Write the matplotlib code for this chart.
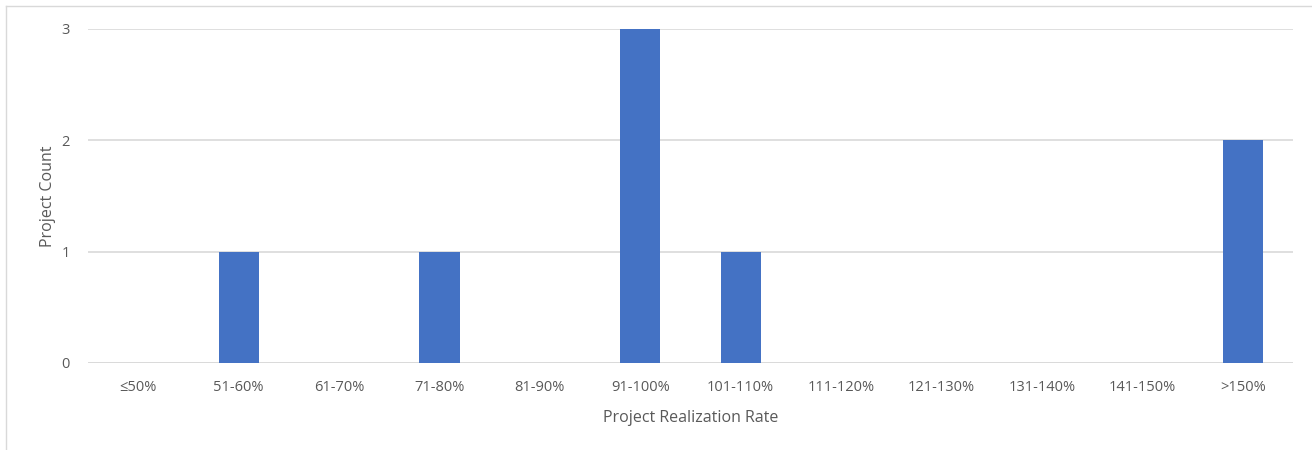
import matplotlib.pyplot as plt
from matplotlib.lines import Line2D

categories = ["≤50%", "51-60%", "61-70%", "71-80%", "81-90%", "91-100%",
              "101-110%", "111-120%", "121-130%", "131-140%", "141-150%", ">150%"]
counts = [0, 1, 0, 1, 0, 3, 1, 0, 0, 0, 0, 2]

plt.rcParams['font.family'] = ['Open Sans', 'DejaVu Sans']

fig = plt.figure(figsize=(13.12, 4.5), dpi=100)
ax = fig.add_axes([88 / 1312, 1 - 363 / 450, (1293 - 88) / 1312, (363 - 29) / 450])

x = list(range(len(categories)))
ax.bar(x, counts, width=0.4, color="#4472C4", zorder=3)

ax.set_xlim(-0.5, len(categories) - 0.5)
ax.set_ylim(0, 3)
ax.set_yticks([0, 1, 2, 3])
ax.set_xticks(x)
ax.set_xticklabels(categories)
ax.tick_params(axis="both", length=0, labelsize=10.5, colors="#595959")
ax.tick_params(axis="x", pad=12)
ax.tick_params(axis="y", pad=13)
ax.yaxis.grid(True, color="#d9d9d9", linewidth=1.2, zorder=0)
for s in ax.spines.values():
    s.set_visible(False)
ax.axhline(0, color="#d9d9d9", linewidth=1.2, zorder=1)

ax.set_xlabel("Project Realization Rate", fontsize=11.5, color="#595959", labelpad=11)
ax.set_ylabel("Project Count", fontsize=11.5, color="#595959", labelpad=4)

# chart border (left and top edges visible)
fig.add_artist(Line2D([6 / 1312, 6 / 1312], [0, 1 - 6 / 450], transform=fig.transFigure, color="#d9d9d9", linewidth=1))
fig.add_artist(Line2D([6 / 1312, 1], [1 - 6 / 450, 1 - 6 / 450], transform=fig.transFigure, color="#d9d9d9", linewidth=1))

fig.savefig("out.png", dpi=100)
